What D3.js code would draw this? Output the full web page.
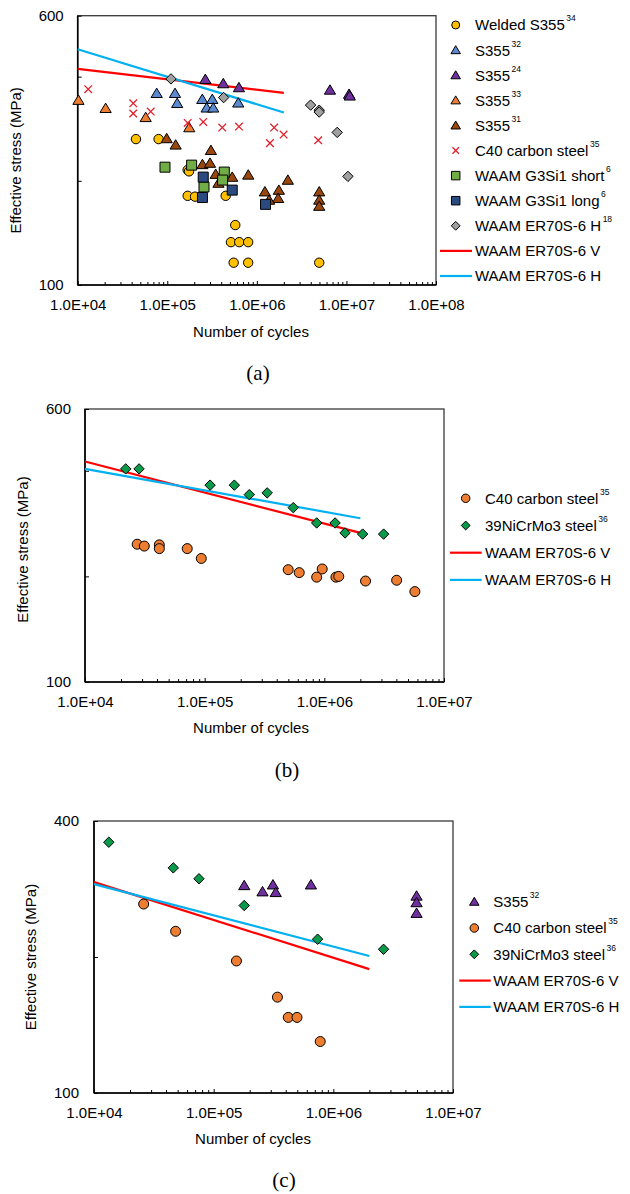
<!DOCTYPE html>
<html><head><meta charset="utf-8">
<script src="https://cdn.jsdelivr.net/npm/d3@7"></script>
<style>
body{margin:0;background:#fff}
text{font-family:"Liberation Sans",Arial,sans-serif;fill:#000}
</style>
</head><body>
<svg id="chart" width="630" height="1194"></svg>
<script>
// ---------------- DATA ----------------
// Panel (a)  [cycles, effective stress MPa]
const weldedS355_a = [[4.47e4,264],[8.0e4,264],[1.69e5,215],[1.75e5,213],[1.69e5,181],[2.04e5,180],[4.49e5,181],[5.74e5,149],[5.14e5,133],[6.36e5,133],[8.0e5,133],[5.51e5,116],[8.0e5,116],[4.97e6,116]];
const s355ref32_a = [[7.62e4,358],[1.22e5,358],[1.29e5,335],[2.46e5,344],[3.18e5,344],[2.75e5,325],[3.26e5,325],[6.2e5,336]];
const s355ref24_a = [[2.66e5,393],[4.22e5,382],[6.31e5,372],[6.55e6,366],[1.07e7,356],[1.09e7,352]];
const s355ref33_a = [[1.02e4,342],[2.05e4,324],[5.74e4,305],[1.76e5,285]];
const s355ref31_a = [[9.85e4,265],[1.24e5,254],[3.07e5,245],[2.47e5,223],[3.0e5,225],[3.47e5,209],[3.73e5,197],[5.31e5,205],[8.02e5,208],[1.23e6,186],[1.76e6,188],[1.73e6,178],[1.37e6,176],[2.22e6,201],[4.97e6,186],[4.97e6,176],[4.97e6,169]];
const c40_a = [[1.31e4,368],[4.17e4,335],[4.17e4,313],[6.53e4,317],[1.69e5,294],[2.52e5,296],[4.11e5,285],[6.31e5,287],[1.56e6,285],[1.99e6,272],[1.4e6,257],[4.84e6,262]];
const g3si1Short_a = [[9.43e4,219],[1.87e5,222],[2.57e5,192],[4.33e5,212],[4.15e5,201]];
const g3si1Long_a = [[2.52e5,205],[2.47e5,179],[5.31e5,188],[1.25e6,171]];
const er70sH18_a = [[1.1e5,394],[4.26e5,348],[3.98e6,331],[4.97e6,320],[4.97e6,316],[7.89e6,276],[1.04e7,206]];
const fitV_a = [[1e4,421],[2e6,359]];
const fitH_a = [[1e4,480],[2e6,315]];

// Panel (b)
const c40_b = [[2.73e4,247],[3.13e4,244],[4.18e4,246],[4.18e4,240],[7.15e4,240],[9.37e4,225],[4.99e5,209],[6.17e5,205],[9.6e5,210],[8.63e5,199],[1.25e6,199],[1.32e6,200],[2.21e6,194],[4.02e6,195],[5.71e6,181]];
const niCrMo_b = [[2.19e4,405],[2.83e4,405],[1.11e5,364],[1.77e5,364],[2.36e5,342],[3.33e5,346],[5.5e5,314],[8.63e5,284],[1.23e6,284],[1.49e6,266],[2.09e6,264],[3.13e6,264]];
const fitV_b = [[1e4,425],[2e6,266]];
const fitH_b = [[1e4,405],[2e6,293]];

// Panel (c)
const s355ref32_c = [[1.8e5,288],[2.56e5,279],[3.13e5,289],[3.3e5,278],[6.5e5,289],[4.96e6,273],[4.96e6,264],[4.96e6,250]];
const c40_c = [[2.6e4,262],[4.81e4,228],[1.55e5,196],[3.41e5,163],[4.2e5,147],[4.97e5,147],[7.77e5,130]];
const niCrMo_c = [[1.33e4,359],[4.6e4,315],[7.54e4,298],[1.8e5,260],[7.39e5,219],[2.63e6,208]];
const fitV_c = [[1e4,293],[2e6,188]];
const fitH_c = [[1e4,290],[2e6,201]];

// Axis labels
const xTickValsA = [1e4,1e5,1e6,1e7,1e8];
const xTickLabelsA = ["1.0E+04","1.0E+05","1.0E+06","1.0E+07","1.0E+08"];
const xTickValsBC = [1e4,1e5,1e6,1e7];
const xTickLabelsBC = ["1.0E+04","1.0E+05","1.0E+06","1.0E+07"];
const yLabeledA = [100,600];
const yLabeledC = [100,400];
const xTitle = "Number of cycles";
const yTitle = "Effective stress (MPa)";

// ---------------- DRAWING ----------------
const svg = d3.select("#chart");
const RED = "#ff0000", BLUE = "#00b0f0";
const FS = 15;

function markerPath(type, s) {
  s = s || 1;
  if (type === "tri") { const w = 5.6*s, t = 5.2*s, b = 4.2*s; return `M0,${-t}L${w},${b}L${-w},${b}Z`; }
  if (type === "sq") { const h = 5*s; return `M${-h},${-h}H${h}V${h}H${-h}Z`; }
  if (type === "dia") { const h = 5.2*s; return `M0,${-h}L${h},0L0,${h}L${-h},0Z`; }
  if (type === "x") { const h = 3.8*s; return `M${-h},${-h}L${h},${h}M${h},${-h}L${-h},${h}`; }
  return null;
}
function drawMarker(g, type, cx, cy, fill, s, r) {
  s = s || 1;
  if (type === "circ") {
    g.append("circle").attr("cx", cx).attr("cy", cy).attr("r", (r || 4.7) * s)
      .attr("fill", fill).attr("stroke", "#000").attr("stroke-width", 1);
  } else if (type === "x") {
    g.append("path").attr("d", markerPath("x", s)).attr("transform", `translate(${cx},${cy})`)
      .attr("fill", "none").attr("stroke", fill).attr("stroke-width", 1.3);
  } else {
    g.append("path").attr("d", markerPath(type, s)).attr("transform", `translate(${cx},${cy})`)
      .attr("fill", fill).attr("stroke", "#000").attr("stroke-width", 1);
  }
}

function panel(cfg) {
  const g = svg.append("g");
  const x = d3.scaleLog().domain(cfg.xDomain).range([cfg.left, cfg.right]);
  const y = d3.scaleLog().domain(cfg.yDomain).range([cfg.bottom, cfg.top]);

  g.append("rect").attr("x", cfg.left).attr("y", cfg.top)
    .attr("width", cfg.right - cfg.left).attr("height", cfg.bottom - cfg.top)
    .attr("fill", "none").attr("stroke", "#3a3a3a").attr("stroke-width", 1.3);

  const minor = [];
  const d0 = Math.round(Math.log10(cfg.xDomain[0])), d1 = Math.round(Math.log10(cfg.xDomain[1]));
  for (let d = d0; d < d1; d++) for (let k = 2; k <= 9; k++) minor.push(k * Math.pow(10, d));
  const minorAx = g.append("g").attr("transform", `translate(0,${cfg.bottom})`)
    .call(d3.axisBottom(x).tickValues(minor).tickFormat("").tickSize(-3));
  minorAx.select(".domain").remove();
  const majorAx = g.append("g").attr("transform", `translate(0,${cfg.bottom})`)
    .call(d3.axisBottom(x).tickValues(cfg.xTicks).tickFormat((d, i) => cfg.xLabels[i]).tickSize(-4).tickPadding(14));
  majorAx.select(".domain").remove();
  const yAx = g.append("g").attr("transform", `translate(${cfg.left},0)`)
    .call(d3.axisLeft(y).tickValues(cfg.yTicks).tickFormat(d => cfg.yLabeled.includes(d) ? String(d) : "").tickSize(-4).tickPadding(cfg.yPad));
  yAx.select(".domain").remove();
  g.selectAll(".tick line").attr("stroke", "#000").attr("stroke-width", 1);
  g.selectAll(".tick text").attr("font-size", FS).attr("font-family", '"Liberation Sans",Arial,sans-serif').attr("fill", "#000");

  g.append("line").attr("x1", cfg.left).attr("x2", cfg.left).attr("y1", cfg.top).attr("y2", cfg.bottom)
    .attr("stroke", "#000").attr("stroke-width", 1.6);
  g.append("line").attr("x1", cfg.left).attr("x2", cfg.right).attr("y1", cfg.bottom).attr("y2", cfg.bottom)
    .attr("stroke", "#000").attr("stroke-width", 1.6);

  g.append("text").attr("x", cfg.xTitleX).attr("y", cfg.xTitleY).attr("text-anchor", "middle")
    .attr("dominant-baseline", "central").attr("font-size", FS).text(xTitle);
  g.append("text").attr("transform", `translate(${cfg.yTitleX},${(cfg.top + cfg.bottom) / 2 + cfg.yTitleShift}) rotate(-90)`)
    .attr("text-anchor", "middle").attr("dominant-baseline", "central").attr("font-size", FS).text(yTitle);
  g.append("text").attr("x", cfg.tagX).attr("y", cfg.tagY).attr("text-anchor", "middle")
    .attr("dominant-baseline", "central").attr("font-size", 21)
    .style("font-family", '"Liberation Serif","Times New Roman",serif').text(cfg.tag);

  const line = d3.line().x(d => x(d[0])).y(d => y(d[1]));
  cfg.lines.forEach(l => {
    g.append("path").attr("d", line(l.data)).attr("fill", "none").attr("stroke", l.color).attr("stroke-width", 2.2);
  });
  cfg.series.forEach(s => {
    const sg = g.append("g");
    s.data.forEach(d => drawMarker(sg, s.type, x(d[0]), y(d[1]), s.fill, 1, s.r));
  });

  const lg = g.append("g");
  cfg.legend.forEach((it, i) => {
    const ly = cfg.legY + i * cfg.legStep;
    if (it.kind === "line") {
      lg.append("line").attr("x1", cfg.legLine[0]).attr("x2", cfg.legLine[1]).attr("y1", ly).attr("y2", ly)
        .attr("stroke", it.color).attr("stroke-width", 2.2);
    } else {
      drawMarker(lg, it.type, cfg.legMarkX, ly, it.fill, 0.85, it.r);
    }
    const t = lg.append("text").attr("x", cfg.legTextX).attr("y", ly).attr("dy", "0.36em").attr("font-size", FS);
    t.append("tspan").text(it.name);
    if (it.sup) t.append("tspan").attr("dx", 1.5).attr("dy", -9).attr("font-size", 8.5).text(it.sup);
  });
}

const S = {
  welded: { name: "Welded S355", sup: "34", type: "circ", fill: "#ffc000" },
  s32: { name: "S355", sup: "32", type: "tri", fill: "#5b8ad0" },
  s24: { name: "S355", sup: "24", type: "tri", fill: "#7030a0" },
  s33: { name: "S355", sup: "33", type: "tri", fill: "#ed7d31" },
  s31: { name: "S355", sup: "31", type: "tri", fill: "#99460f" },
  c40x: { name: "C40 carbon steel", sup: "35", type: "x", fill: "#e3202a" },
  gShort: { name: "WAAM G3Si1 short", sup: "6", type: "sq", fill: "#70ad47" },
  gLong: { name: "WAAM G3Si1 long", sup: "6", type: "sq", fill: "#2a4a80" },
  er18: { name: "WAAM ER70S-6 H", sup: "18", type: "dia", fill: "#a0a0a0" },
  lineV: { name: "WAAM ER70S-6 V", kind: "line", color: RED },
  lineH: { name: "WAAM ER70S-6 H", kind: "line", color: BLUE },
  c40o: { name: "C40 carbon steel", sup: "35", type: "circ", fill: "#ed7d31", r: 5 },
  ni: { name: "39NiCrMo3 steel", sup: "36", type: "dia", fill: "#0a9b4a" },
  s32p: { name: "S355", sup: "32", type: "tri", fill: "#7030a0" }
};

panel({
  left: 77.7, right: 436, top: 15.7, bottom: 285,
  xDomain: [1e4, 1e8], yDomain: [100, 600],
  xTicks: xTickValsA, xLabels: xTickLabelsA,
  yTicks: [100, 200, 400, 600], yLabeled: yLabeledA, yPad: 14,
  xTitleX: 251, xTitleY: 331, yTitleX: 15, yTitleShift: 10,
  tag: "(a)", tagX: 258, tagY: 373,
  lines: [{ data: fitV_a, color: RED }, { data: fitH_a, color: BLUE }],
  series: [
    Object.assign({}, S.welded, { data: weldedS355_a }),
    Object.assign({}, S.s32, { data: s355ref32_a }),
    Object.assign({}, S.s24, { data: s355ref24_a }),
    Object.assign({}, S.s33, { data: s355ref33_a }),
    Object.assign({}, S.s31, { data: s355ref31_a }),
    Object.assign({}, S.c40x, { data: c40_a }),
    Object.assign({}, S.gShort, { data: g3si1Short_a }),
    Object.assign({}, S.gLong, { data: g3si1Long_a }),
    Object.assign({}, S.er18, { data: er70sH18_a })
  ],
  legend: [S.welded, S.s32, S.s24, S.s33, S.s31, S.c40x, S.gShort, S.gLong, S.er18, S.lineV, S.lineH],
  legY: 25, legStep: 25.1, legMarkX: 455.7, legLine: [440, 472], legTextX: 475
});

panel({
  left: 85, right: 444, top: 409, bottom: 682,
  xDomain: [1e4, 1e7], yDomain: [100, 600],
  xTicks: xTickValsBC, xLabels: xTickLabelsBC,
  yTicks: [100, 200, 400, 600], yLabeled: yLabeledA, yPad: 14,
  xTitleX: 251, xTitleY: 727, yTitleX: 22.5, yTitleShift: 4,
  tag: "(b)", tagX: 287, tagY: 770,
  lines: [{ data: fitV_b, color: RED }, { data: fitH_b, color: BLUE }],
  series: [
    Object.assign({}, S.c40o, { data: c40_b }),
    Object.assign({}, S.ni, { data: niCrMo_b })
  ],
  legend: [S.c40o, S.ni, S.lineV, S.lineH],
  legY: 498.3, legStep: 27.2, legMarkX: 465.7, legLine: [450, 481.7], legTextX: 485
});

panel({
  left: 94, right: 453, top: 821, bottom: 1093,
  xDomain: [1e4, 1e7], yDomain: [100, 400],
  xTicks: xTickValsBC, xLabels: xTickLabelsBC,
  yTicks: [100, 200, 400], yLabeled: yLabeledC, yPad: 15,
  xTitleX: 253, xTitleY: 1138, yTitleX: 30, yTitleShift: 0,
  tag: "(c)", tagX: 284, tagY: 1180,
  lines: [{ data: fitV_c, color: RED }, { data: fitH_c, color: BLUE }],
  series: [
    Object.assign({}, S.s32p, { data: s355ref32_c }),
    Object.assign({}, S.c40o, { data: c40_c }),
    Object.assign({}, S.ni, { data: niCrMo_c })
  ],
  legend: [S.s32p, S.c40o, S.ni, S.lineV, S.lineH],
  legY: 901.7, legStep: 26.3, legMarkX: 474.3, legLine: [459.3, 490.7], legTextX: 493.3
});
</script>
</body></html>
